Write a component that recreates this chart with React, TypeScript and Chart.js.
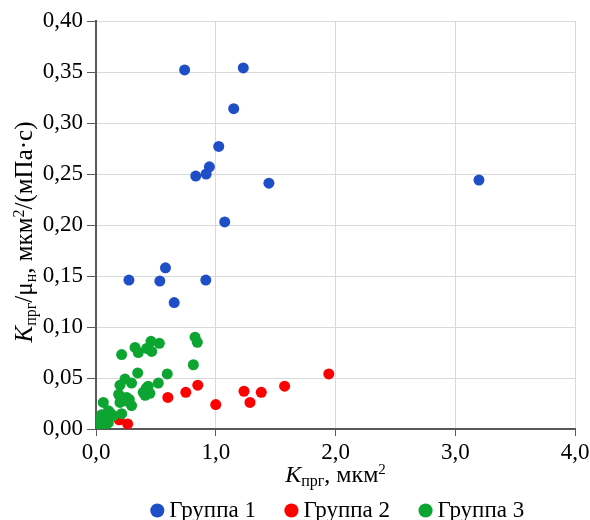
import React, { useEffect, useRef } from 'react';
import { Chart, registerables } from 'chart.js';

Chart.register(...registerables);

// ---- data ----
const seriesNames = ['Группа 1', 'Группа 2', 'Группа 3'];
const seriesColors = ['#1f4fc7', '#ff0000', '#0ca531'];

const group1X = [0.74, 1.23, 1.15, 1.025, 0.947, 0.92, 0.833, 1.444, 3.198, 1.075, 0.58, 0.275, 0.533, 0.917, 0.653];
const group1Y = [0.352, 0.354, 0.314, 0.277, 0.257, 0.25, 0.248, 0.241, 0.244, 0.203, 0.158, 0.146, 0.145, 0.146, 0.124];

const group2X = [0.194, 0.264, 0.6, 0.75, 0.85, 1.0, 1.236, 1.286, 1.38, 1.575, 1.944];
const group2Y = [0.009, 0.005, 0.031, 0.036, 0.043, 0.024, 0.037, 0.026, 0.036, 0.042, 0.054];

const group3X = [0.827, 0.846, 0.529, 0.459, 0.326, 0.353, 0.423, 0.465, 0.214, 0.813, 0.595, 0.348, 0.52, 0.242, 0.297, 0.2, 0.42, 0.436, 0.41, 0.45, 0.394, 0.189, 0.217, 0.256, 0.278, 0.297, 0.2, 0.214, 0.264, 0.061, 0.103, 0.047, 0.144, 0.075, 0.019, 0.103, 0.061, 0.117, 0.083, 0.033];
const group3Y = [0.09, 0.085, 0.084, 0.086, 0.08, 0.075, 0.079, 0.076, 0.073, 0.063, 0.054, 0.055, 0.045, 0.049, 0.045, 0.043, 0.04, 0.042, 0.033, 0.035, 0.036, 0.034, 0.031, 0.031, 0.029, 0.023, 0.026, 0.015, 0.027, 0.026, 0.018, 0.014, 0.013, 0.0095, 0.005, 0.006, 0.003, 0.016, 0.008, 0.008];

const xTickValues = [0, 1, 2, 3, 4];
const xTickLabels = ['0,0', '1,0', '2,0', '3,0', '4,0'];
const yTickValues = [0, 0.05, 0.1, 0.15, 0.2, 0.25, 0.3, 0.35, 0.4];
const yTickLabels = ['0,00', '0,05', '0,10', '0,15', '0,20', '0,25', '0,30', '0,35', '0,40'];

const SERIF = "'Liberation Serif', 'Times New Roman', serif";

type Piece = { text: string; size: number; italic?: boolean; shift?: number };

const xTitlePieces: Piece[] = [
  { text: 'K', size: 24, italic: true },
  { text: 'прг', size: 16, shift: 4 },
  { text: ', мкм', size: 24 },
  { text: '2', size: 15, shift: -8 },
];

const yTitlePieces: Piece[] = [
  { text: 'K', size: 25, italic: true },
  { text: 'прг', size: 16, shift: 4 },
  { text: '/μ', size: 25 },
  { text: 'н', size: 16, shift: 4 },
  { text: ', мкм', size: 25 },
  { text: '2', size: 16, shift: -8 },
  { text: '/(мПа·с)', size: 25 },
];

function fontOf(p: Piece) {
  return `${p.italic ? 'italic ' : ''}${p.size}px ${SERIF}`;
}
function runWidth(ctx: CanvasRenderingContext2D, pieces: Piece[]) {
  let w = 0;
  for (const p of pieces) {
    ctx.font = fontOf(p);
    w += ctx.measureText(p.text).width;
  }
  return w;
}
function drawRun(ctx: CanvasRenderingContext2D, pieces: Piece[], x: number, y: number) {
  for (const p of pieces) {
    ctx.font = fontOf(p);
    ctx.fillText(p.text, x, y + (p.shift || 0));
    x += ctx.measureText(p.text).width;
  }
}

const titlePlugin = {
  id: 'richAxisTitles',
  afterLayout(chart: any) {
    // nudge the centred legend row slightly to the right, as in the reference
    if (chart.legend) chart.legend.left += 10;
  },
  afterDraw(chart: any) {
    const ctx: CanvasRenderingContext2D = chart.ctx;
    const area = chart.chartArea;
    ctx.save();
    ctx.fillStyle = '#000';
    ctx.textBaseline = 'alphabetic';
    ctx.textAlign = 'left';
    const xw = runWidth(ctx, xTitlePieces);
    drawRun(ctx, xTitlePieces, (area.left + area.right) / 2 - xw / 2, 482);
    ctx.translate(32, 232);
    ctx.rotate(-Math.PI / 2);
    const yw = runWidth(ctx, yTitlePieces);
    drawRun(ctx, yTitlePieces, -yw / 2, 0);
    ctx.restore();
  },
};

export default function App() {
  const ref = useRef<HTMLCanvasElement | null>(null);

  useEffect(() => {
    if (!ref.current) return;
    const toPoints = (xs: number[], ys: number[]) => xs.map((x, i) => ({ x, y: ys[i] }));
    const groups = [
      toPoints(group1X, group1Y),
      toPoints(group2X, group2Y),
      toPoints(group3X, group3Y),
    ];
    const chart = new Chart(ref.current, {
      type: 'scatter',
      data: {
        datasets: groups.map((g, i) => ({
          label: seriesNames[i],
          data: g,
          backgroundColor: seriesColors[i],
          borderColor: seriesColors[i],
          borderWidth: 0,
          pointRadius: 5.5,
          pointHoverRadius: 5.5,
          pointStyle: 'circle',
          order: 3 - i,
        })),
      },
      options: {
        responsive: false,
        animation: false,
        devicePixelRatio: 1,
        layout: { padding: { top: 21, right: 15, bottom: 0, left: 0 } },
        plugins: {
          tooltip: { enabled: false },
          legend: {
            position: 'bottom',
            fullSize: false,
            labels: {
              usePointStyle: true,
              pointStyle: 'circle',
              boxWidth: 1,
              boxHeight: 10,
              padding: 35,
              color: '#000',
              font: { family: SERIF, size: 23 },
              sort: (a: any, b: any) => a.datasetIndex - b.datasetIndex,
            },
          },
        },
        scales: {
          x: {
            type: 'linear',
            min: 0,
            max: 4,
            afterBuildTicks: (s: any) => {
              s.ticks = xTickValues.map((v) => ({ value: v }));
            },
            afterFit: (s: any) => {
              s.height = 35;
              s.paddingLeft = 0;
              s.paddingRight = 0;
            },
            border: { color: '#595959', width: 2 },
            grid: { color: '#d9d9d9', tickColor: '#595959', tickLength: 7, lineWidth: 1 },
            ticks: {
              padding: 3,
              color: '#000',
              font: { family: SERIF, size: 23 },
              maxRotation: 0,
              callback: (_v: any, i: number) => xTickLabels[i],
            },
            title: { display: false },
          },
          y: {
            type: 'linear',
            min: 0,
            max: 0.4,
            afterBuildTicks: (s: any) => {
              s.ticks = yTickValues.map((v) => ({ value: v }));
            },
            afterFit: (s: any) => {
              s.width = 96;
              s.paddingTop = 0;
              s.paddingBottom = 0;
            },
            border: { color: '#595959', width: 2 },
            grid: { color: '#d9d9d9', tickColor: '#595959', tickLength: 9, lineWidth: 1 },
            ticks: {
              padding: 4,
              color: '#000',
              font: { family: SERIF, size: 23 },
              callback: (_v: any, i: number) => yTickLabels[i],
            },
            title: { display: false },
          },
        },
      },
      plugins: [titlePlugin],
    } as any);
    return () => chart.destroy();
  }, []);

  return (
    <div
      style={{
        position: 'fixed',
        left: 0,
        top: 0,
        width: 590,
        height: 520,
        overflow: 'hidden',
        background: '#fff',
      }}
    >
      <canvas ref={ref} width={590} height={532} style={{ display: 'block', width: 590, height: 532 }} />
    </div>
  );
}
